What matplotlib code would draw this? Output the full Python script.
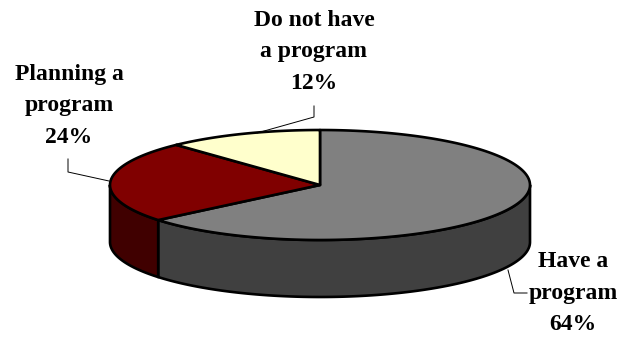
import numpy as np
import matplotlib
matplotlib.use('Agg')
import matplotlib.pyplot as plt
from matplotlib.patches import Polygon

# Program status shares, clockwise from 12 o'clock
labels = ['Have a\nprogram\n64%', 'Planning a\nprogram\n24%', 'Do not have\na program\n12%']
shares = [64, 24, 12]
top_colors = ['#808080', '#800000', '#FFFFCC']
side_colors = ['#404040', '#400000', '#808066']

label_pos = [(573, 293), (69, 106), (314, 52)]
leader_lines = [
    [(508, 270), (514, 293), (527, 293)],
    [(68, 159), (68, 172), (109, 181)],
    [(314, 106), (314, 117), (257, 133)],
]

cx, cy = 320, 185
rx, ry = 210, 55
depth = 57


def rim(a0, a1, n=200):
    # points on the top ellipse, angle in degrees clockwise from the top
    t = np.radians(np.linspace(a0, a1, n))
    return np.column_stack([cx + rx * np.sin(t), cy - ry * np.cos(t)])


fig = plt.figure(figsize=(6.17, 3.37), dpi=100)
ax = fig.add_axes([0, 0, 1, 1])
ax.set_xlim(0, 617)
ax.set_ylim(337, 0)
ax.axis('off')

edges = np.cumsum([0] + shares) * 3.6

# side wall, only the part facing front (90 to 270 degrees)
for i in range(len(shares)):
    a0 = max(edges[i], 90)
    a1 = min(edges[i + 1], 270)
    if a1 <= a0:
        continue
    arc = rim(a0, a1)
    wall = np.vstack([arc, (arc + [0, depth])[::-1]])
    ax.add_patch(Polygon(wall, closed=True, fc=side_colors[i], ec='black', lw=1.9, joinstyle='round'))

# top face
for i in range(len(shares)):
    arc = rim(edges[i], edges[i + 1])
    wedge = np.vstack([[cx, cy], arc])
    ax.add_patch(Polygon(wedge, closed=True, fc=top_colors[i], ec='black', lw=1.9, joinstyle='round'))

for line in leader_lines:
    xs, ys = zip(*line)
    ax.plot(xs, ys, color='black', lw=0.7)

for text, (x, y) in zip(labels, label_pos):
    ax.text(x, y, text, ha='center', va='center', family='Liberation Serif',
            weight='bold', fontsize=17, linespacing=1.67, color='black')

fig.savefig('out.png', dpi=100)
